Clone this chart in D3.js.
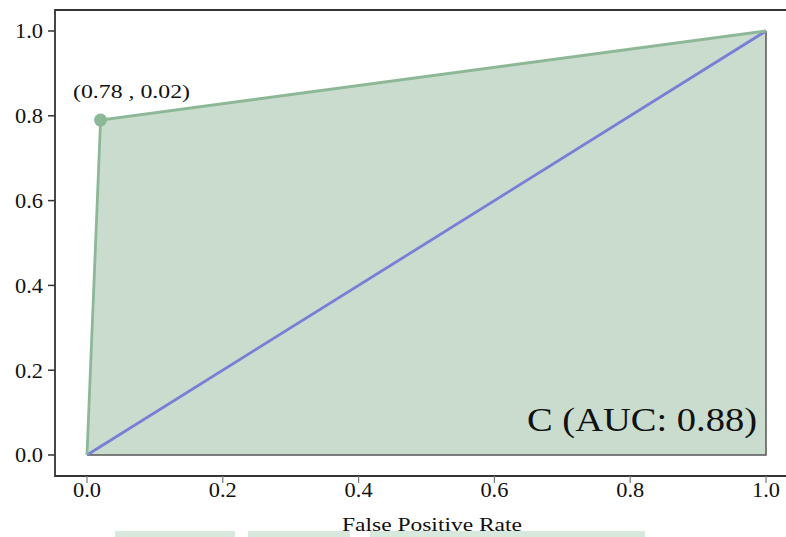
<!DOCTYPE html>
<html>
<head>
<meta charset="utf-8">
<script src="https://cdn.jsdelivr.net/npm/d3@7"></script>
<style>
  body { margin: 0; background: #fff; }
  text { font-family: "Liberation Serif", "DejaVu Serif", serif; fill: #111; }
</style>
</head>
<body>
<div id="chart"></div>
<script>

// data
var fpr = [0, 0.02, 1],
	tpr = [0, 0.79, 1],
	diagonal = [0, 1],
	xticks = [0, 0.2, 0.4, 0.6, 0.8, 1.0],
	yticks = [0, 0.2, 0.4, 0.6, 0.8, 1.0],
	pointLabel = "(0.78 , 0.02)",
	aucLabel = "C (AUC: 0.88)",
	xTitle = "False Positive Rate";

var width = 786,
	height = 537,
	frame = {left: 55, top: 10, bottom: 476};

var fillcolor = "#cadcce",
	rocolor = "#8db897",
	diagcolor = "#7a7fd6",
	edgecolor = "#555";

var X = d3.scaleLinear().domain([0, 1]).range([87, 766]);
var Y = d3.scaleLinear().domain([0, 1]).range([455, 31]);

var svg = d3.select("#chart").append("svg")
	.attr("width", width)
	.attr("height", height);

// faint strip at the bottom, left over from the source
[[115, 235], [248, 350], [370, 645]].forEach(function(s){
	svg.append("rect").attr("x", s[0]).attr("y", 531).attr("width", s[1] - s[0]).attr("height", 6)
		.attr("fill", "#d6e9dc");
});

// area under curve, closed through (1,0)
var roc = fpr.map(function(d, i){ return [d, tpr[i]]; });
var poly = roc.concat([[1, 0]]);

svg.append("path")
	.attr("d", d3.line().x(function(d){ return X(d[0]); }).y(function(d){ return Y(d[1]); })(poly) + "Z")
	.attr("fill", fillcolor);

// right and bottom edges of the area
svg.append("path")
	.attr("d", d3.line()([[X(1), Y(1)], [X(1), Y(0)], [X(0), Y(0)]]))
	.attr("fill", "none")
	.attr("stroke", edgecolor)
	.attr("stroke-width", 1.5);

// chance line
svg.append("line")
	.attr("x1", X(diagonal[0])).attr("y1", Y(diagonal[0]))
	.attr("x2", X(diagonal[1])).attr("y2", Y(diagonal[1]))
	.attr("stroke", diagcolor)
	.attr("stroke-width", 2.8);

// roc curve
svg.append("path")
	.attr("d", d3.line().x(function(d){ return X(d[0]); }).y(function(d){ return Y(d[1]); })(roc))
	.attr("fill", "none")
	.attr("stroke", rocolor)
	.attr("stroke-width", 2.8);

svg.append("circle")
	.attr("cx", X(fpr[1])).attr("cy", Y(tpr[1])).attr("r", 6.5)
	.attr("fill", rocolor);

// texts in the source are stretched sideways, so fix their widths
svg.append("text")
	.attr("x", 73).attr("y", 98)
	.attr("textLength", 117).attr("lengthAdjust", "spacingAndGlyphs")
	.style("font-size", "19px")
	.text(pointLabel);

svg.append("text")
	.attr("x", 527).attr("y", 431)
	.attr("textLength", 230).attr("lengthAdjust", "spacingAndGlyphs")
	.style("font-size", "34px")
	.text(aucLabel);

// frame
svg.append("path")
	.attr("d", d3.line()([[width, frame.top], [frame.left, frame.top], [frame.left, frame.bottom], [width, frame.bottom]]))
	.attr("fill", "none")
	.attr("stroke", "#333")
	.attr("stroke-width", 1.8);

// y axis ticks
var ya = svg.selectAll(".ytick").data(yticks).enter().append("g")
	.attr("transform", function(d){ return "translate(0," + Y(d) + ")"; });
ya.append("line").attr("x1", frame.left - 7).attr("x2", frame.left).attr("stroke", "#333").attr("stroke-width", 1.5);
ya.append("text")
	.attr("x", 15).attr("dy", "0.35em")
	.attr("textLength", 28).attr("lengthAdjust", "spacingAndGlyphs")
	.style("font-size", "21px")
	.text(function(d){ return d3.format(".1f")(d); });

// x axis ticks
var xa = svg.selectAll(".xtick").data(xticks).enter().append("g")
	.attr("transform", function(d){ return "translate(" + X(d) + ",0)"; });
xa.append("line").attr("y1", frame.bottom).attr("y2", frame.bottom + 7).attr("stroke", "#777").attr("stroke-width", 1.2);
xa.append("text")
	.attr("x", -14).attr("y", 497)
	.attr("textLength", 28).attr("lengthAdjust", "spacingAndGlyphs")
	.style("font-size", "21px")
	.text(function(d){ return d3.format(".1f")(d); });

svg.append("text")
	.attr("x", 342).attr("y", 531)
	.attr("textLength", 180).attr("lengthAdjust", "spacingAndGlyphs")
	.style("font-size", "18px")
	.text(xTitle);

</script>
</body>
</html>
